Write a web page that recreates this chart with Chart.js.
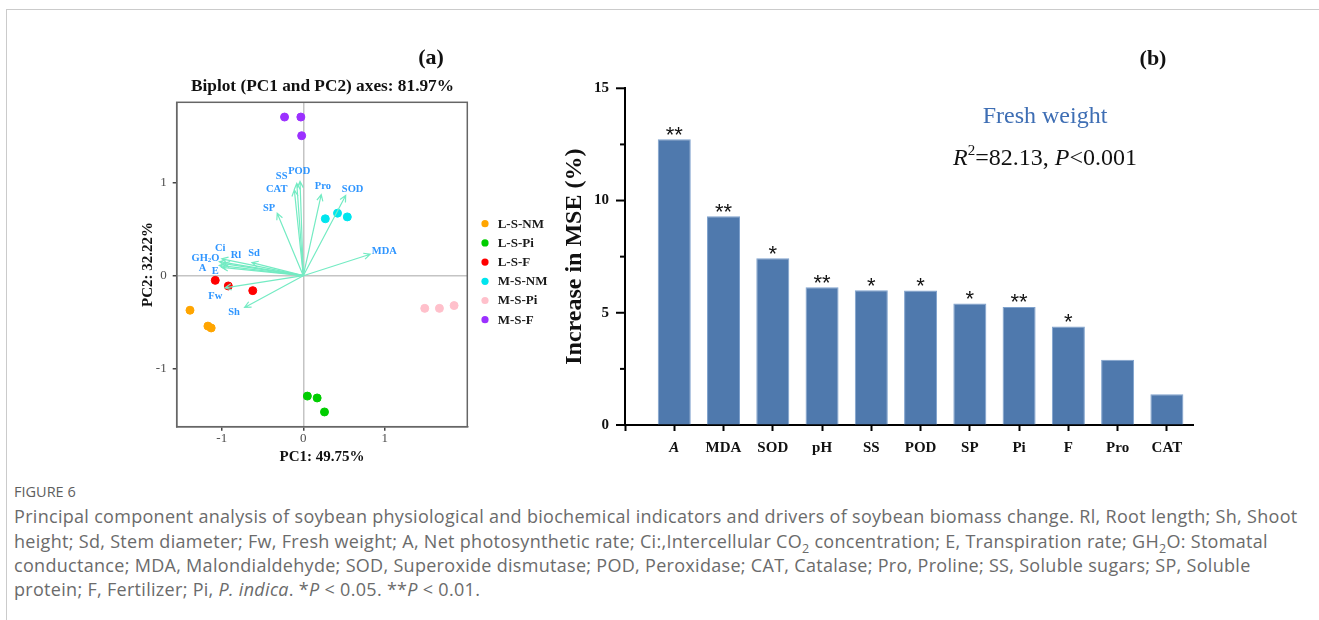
<!DOCTYPE html>
<html>
<head>
<meta charset="utf-8">
<script src="https://cdn.jsdelivr.net/npm/chart.js@4.4.1/dist/chart.umd.min.js"></script>
<style>
  html, body { margin: 0; padding: 0; background: #fff; }
  body { width: 1319px; height: 620px; position: relative; overflow: hidden; }
  #moldura { position: absolute; left: 6px; top: 9px; right: 0; bottom: 0;
    border-top: 1.5px solid #cbcbcb; border-left: 1.5px solid #cbcbcb; }
  #boxA { position: absolute; left: 0; top: 0; width: 560px; height: 480px; }
  #boxB { position: absolute; left: 560px; top: 0; width: 759px; height: 480px; }
  #legenda { position: absolute; left: 14px; top: 480px; font-family: "Open Sans", sans-serif; color: #6b6b6b; }
  #legenda .fig { font-size: 14.5px; line-height: 24.3px; color: #5e5e5e; }
  #legenda .lin { font-size: 18px; letter-spacing: 0.3px; line-height: 24.3px; white-space: nowrap; }
  #legenda sub { font-size: 12.5px; line-height: 0; }
</style>
</head>
<body>
<div id="moldura"></div>
<div id="boxA"><canvas id="graficoA"></canvas></div>
<div id="boxB"><canvas id="graficoB"></canvas></div>
<div id="legenda">
  <div class="fig">FIGURE 6</div>
  <div class="lin">Principal component analysis of soybean physiological and biochemical indicators and drivers of soybean biomass change. Rl, Root length; Sh, Shoot</div>
  <div class="lin">height; Sd, Stem diameter; Fw, Fresh weight; A, Net photosynthetic rate; Ci:,Intercellular CO<sub>2</sub> concentration; E, Transpiration rate; GH<sub>2</sub>O: Stomatal</div>
  <div class="lin">conductance; MDA, Malondialdehyde; SOD, Superoxide dismutase; POD, Peroxidase; CAT, Catalase; Pro, Proline; SS, Soluble sugars; SP, Soluble</div>
  <div class="lin">protein; F, Fertilizer; Pi, <i>P. indica</i>. *<i>P</i> &lt; 0.05. **<i>P</i> &lt; 0.01.</div>
</div>
<script>
  const SERIF = '"Liberation Serif", "Times New Roman", serif';

  // (a) escores do PCA por tratamento
  const grupos = ['L-S-NM', 'L-S-Pi', 'L-S-F', 'M-S-NM', 'M-S-Pi', 'M-S-F'];
  const pc1 = [
    [-1.39, -1.17, -1.13],
    [0.05, 0.17, 0.26],
    [-1.08, -0.92, -0.62],
    [0.27, 0.42, 0.54],
    [1.49, 1.67, 1.85],
    [-0.23, -0.03, -0.02]
  ];
  const pc2 = [
    [-0.37, -0.54, -0.56],
    [-1.29, -1.31, -1.46],
    [-0.05, -0.11, -0.16],
    [0.61, 0.67, 0.63],
    [-0.35, -0.35, -0.32],
    [1.70, 1.70, 1.50]
  ];

  // vetores (cargas) das variaveis
  const variaveis = ['Ci', 'GH2O', 'A', 'E', 'Rl', 'Sd', 'Fw', 'Sh', 'SP', 'CAT', 'SS', 'POD', 'Pro', 'SOD', 'MDA'];
  const cargaX = [-1.00, -1.03, -1.03, -1.00, -0.98, -0.63, -0.96, -0.72, -0.32, -0.11, -0.08, -0.04, 0.22, 0.52, 0.82];
  const cargaY = [0.18, 0.15, 0.11, 0.09, 0.13, 0.14, -0.13, -0.34, 0.67, 0.92, 0.99, 1.01, 0.87, 0.86, 0.23];
  const ticksPCA = [-1, 0, 1];

  // (b) importancia das variaveis para o peso fresco
  const fatores = ['A', 'MDA', 'SOD', 'pH', 'SS', 'POD', 'SP', 'Pi', 'F', 'Pro', 'CAT'];
  const incMSE = [12.73, 9.30, 7.43, 6.14, 6.00, 5.99, 5.41, 5.26, 4.39, 2.91, 1.37];
  const signif = ['**', '**', '*', '**', '*', '*', '*', '**', '*', '', ''];
  const ticksMSE = [0, 2.5, 5, 7.5, 10, 12.5, 15];

  /* cores e posicao dos rotulos (layout) */
  const corGrupo = ['#FFA500', '#00CD00', '#FF0000', '#00E5EE', '#FFC0CB', '#9B30FF'];
  const posRotulo = {
    Ci: [-1.02, 0.295], GH2O: [-1.20, 0.19], A: [-1.235, 0.08], E: [-1.08, 0.045],
    Rl: [-0.826, 0.223], Sd: [-0.605, 0.24], Fw: [-1.08, -0.216], Sh: [-0.85, -0.392],
    SP: [-0.42, 0.72], CAT: [-0.326, 0.926], SS: [-0.265, 1.068], POD: [-0.05, 1.115],
    Pro: [0.24, 0.954], SOD: [0.605, 0.926], MDA: [0.995, 0.265]
  };

  // desenha texto com partes (italico, sobrescrito, subscrito)
  function textoComposto(ctx, partes, cx, y, tam, peso) {
    const fonte = p => (p.it ? 'italic ' : '') + (peso || '') + ' ' + (p.sup || p.sub ? Math.round(tam * 0.62) : tam) + 'px ' + SERIF;
    let total = 0;
    partes.forEach(p => { ctx.font = fonte(p); total += ctx.measureText(p.t).width; });
    let x = cx - total / 2;
    ctx.textAlign = 'left';
    partes.forEach(p => {
      ctx.font = fonte(p);
      const dy = p.sup ? -tam * 0.38 : (p.sub ? tam * 0.22 : 0);
      ctx.fillText(p.t, x, y + dy);
      x += ctx.measureText(p.t).width;
    });
  }

  /* Grafico (a) - biplot */
  const pluginPCA = {
    id: 'pluginPCA',
    afterDatasetsDraw(chart) {
      const { ctx, chartArea: a, scales: { x, y } } = chart;
      ctx.save();
      ctx.strokeStyle = '#666';
      ctx.lineWidth = 1.5;
      ctx.strokeRect(a.left, a.top, a.right - a.left, a.bottom - a.top);

      const x0 = x.getPixelForValue(0), y0 = y.getPixelForValue(0);
      ctx.strokeStyle = '#74EBC3';
      ctx.lineWidth = 1.2;
      variaveis.forEach((v, i) => {
        const x1 = x.getPixelForValue(cargaX[i]), y1 = y.getPixelForValue(cargaY[i]);
        const ang = Math.atan2(y1 - y0, x1 - x0);
        ctx.beginPath();
        ctx.moveTo(x0, y0);
        ctx.lineTo(x1, y1);
        ctx.moveTo(x1 - 7 * Math.cos(ang - 0.45), y1 - 7 * Math.sin(ang - 0.45));
        ctx.lineTo(x1, y1);
        ctx.lineTo(x1 - 7 * Math.cos(ang + 0.45), y1 - 7 * Math.sin(ang + 0.45));
        ctx.stroke();
      });

      ctx.fillStyle = '#2E95FF';
      ctx.textBaseline = 'middle';
      variaveis.forEach(v => {
        const p = posRotulo[v];
        const px = x.getPixelForValue(p[0]), py = y.getPixelForValue(p[1]);
        if (v === 'GH2O') {
          textoComposto(ctx, [{ t: 'GH' }, { t: '2', sub: true }, { t: 'O' }], px, py, 10.5, 'bold');
        } else {
          ctx.font = 'bold 10.5px ' + SERIF;
          ctx.textAlign = 'center';
          ctx.fillText(v, px, py);
        }
      });
      ctx.restore();
    },
    afterDraw(chart) {
      const { ctx, chartArea: a } = chart;
      ctx.save();
      ctx.fillStyle = '#111';
      ctx.textAlign = 'center';
      ctx.textBaseline = 'middle';
      ctx.font = 'bold 17.3px ' + SERIF;
      ctx.fillText('Biplot (PC1 and PC2) axes: 81.97%', 322.5, 87);
      ctx.font = 'bold 22px ' + SERIF;
      ctx.fillText('(a)', 431, 58);

      // legenda
      ctx.textAlign = 'left';
      ctx.font = 'bold 13px ' + SERIF;
      grupos.forEach((g, i) => {
        const cy = a.top + 121.4 + 19.2 * i;
        ctx.fillStyle = corGrupo[i];
        ctx.beginPath();
        ctx.arc(a.right + 17.7, cy, 3.6, 0, Math.PI * 2);
        ctx.fill();
        ctx.fillStyle = '#1a1a1a';
        ctx.fillText(g, a.right + 30.4, cy + 0.5);
      });
      ctx.restore();
    }
  };

  new Chart(document.getElementById('graficoA'), {
    type: 'scatter',
    data: {
      datasets: grupos.map((g, i) => ({
        label: g,
        data: pc1[i].map((v, j) => ({ x: v, y: pc2[i][j] })),
        backgroundColor: corGrupo[i],
        borderColor: corGrupo[i],
        pointRadius: 4,
        pointHoverRadius: 4
      }))
    },
    options: {
      responsive: true,
      maintainAspectRatio: false,
      animation: false,
      layout: { padding: { left: 135, top: 102.3, right: 92.7, bottom: 10 } },
      plugins: { legend: { display: false }, tooltip: { enabled: false } },
      scales: {
        x: {
          type: 'linear', min: -1.553, max: 2.012,
          afterBuildTicks: s => { s.ticks = ticksPCA.map(v => ({ value: v })); },
          afterFit: s => { s.height = 43.3; },
          grid: {
            color: c => (c.tick && c.tick.value === 0) ? '#C4C4C4' : 'rgba(0,0,0,0)',
            lineWidth: 1.5, tickColor: '#444', tickLength: 4
          },
          border: { display: true, color: '#666', width: 1.5 },
          ticks: { font: { family: SERIF, size: 13 }, color: '#4d4d4d', padding: 0, callback: v => v },
          title: { display: true, text: 'PC1: 49.75%', color: '#111', font: { family: SERIF, size: 15, weight: 'bold' } }
        },
        y: {
          type: 'linear', min: -1.618, max: 1.858,
          afterBuildTicks: s => { s.ticks = ticksPCA.map(v => ({ value: v })); },
          afterFit: s => { s.width = 41.7; },
          grid: {
            color: c => (c.tick && c.tick.value === 0) ? '#C4C4C4' : 'rgba(0,0,0,0)',
            lineWidth: 1.5, tickColor: '#444', tickLength: 4
          },
          border: { display: true, color: '#666', width: 1.5 },
          ticks: { font: { family: SERIF, size: 13 }, color: '#4d4d4d', padding: 6, callback: v => v },
          title: { display: true, text: 'PC2: 32.22%', color: '#111', font: { family: SERIF, size: 15, weight: 'bold' } }
        }
      }
    },
    plugins: [pluginPCA]
  });

  /* Grafico (b) - barras */
  const pluginMSE = {
    id: 'pluginMSE',
    afterDatasetsDraw(chart) {
      const { ctx, chartArea: a, scales: { y } } = chart;
      ctx.save();
      // marcas do eixo y (maiores e menores)
      ctx.strokeStyle = '#000';
      ctx.lineWidth = 2;
      ticksMSE.forEach(v => {
        const len = v % 5 === 0 ? 9 : 5;
        const py = y.getPixelForValue(v);
        ctx.beginPath();
        ctx.moveTo(a.left - len, py);
        ctx.lineTo(a.left, py);
        ctx.stroke();
      });
      // asteriscos
      ctx.fillStyle = '#111';
      ctx.font = '22px "Liberation Sans", Arial, sans-serif';
      ctx.textAlign = 'center';
      ctx.textBaseline = 'alphabetic';
      chart.getDatasetMeta(0).data.forEach((barra, i) => {
        ctx.fillText(signif[i], barra.x, barra.y + 2.5);
      });
      ctx.restore();
    },
    afterDraw(chart) {
      const { ctx } = chart;
      ctx.save();
      ctx.textBaseline = 'alphabetic';
      ctx.textAlign = 'center';
      ctx.fillStyle = '#111';
      ctx.font = 'bold 22px ' + SERIF;
      ctx.fillText('(b)', 593, 65);
      ctx.fillStyle = '#3E6EB4';
      ctx.font = '24px ' + SERIF;
      ctx.fillText('Fresh weight', 485, 122.7);
      ctx.fillStyle = '#111';
      textoComposto(ctx, [
        { t: 'R', it: true }, { t: '2', sup: true }, { t: '=82.13, ' },
        { t: 'P', it: true }, { t: '<0.001' }
      ], 485, 164.5, 24, '');
      ctx.restore();
    }
  };

  new Chart(document.getElementById('graficoB'), {
    type: 'bar',
    data: {
      datasets: [{
        label: 'Increase in MSE (%)',
        data: incMSE.map((v, i) => ({ x: i + 1, y: v })),
        backgroundColor: '#4F79AD',
        borderColor: '#7FA2CD',
        borderWidth: 1,
        categoryPercentage: 1,
        barPercentage: 0.67
      }]
    },
    options: {
      responsive: true,
      maintainAspectRatio: false,
      animation: false,
      layout: { padding: { left: 0, top: 88.3, right: 126, bottom: 10 } },
      plugins: { legend: { display: false }, tooltip: { enabled: false } },
      scales: {
        x: {
          type: 'linear', min: 0, max: 11.53, offset: false,
          afterBuildTicks: s => { s.ticks = [0].concat(fatores.map((f, i) => i + 1)).map(v => ({ value: v })); },
          afterFit: s => { s.height = 45; },
          grid: { offset: false, drawOnChartArea: false, tickLength: 6, tickColor: '#000', tickWidth: 2 },
          border: { display: true, color: '#000', width: 2 },
          ticks: {
            color: '#111', padding: 8,
            font: c => ({ family: SERIF, size: 15, weight: 'bold', style: (c.tick && c.tick.value === 1) ? 'italic' : 'normal' }),
            callback: v => v === 0 ? '' : fatores[v - 1]
          }
        },
        y: {
          min: 0, max: 15,
          afterBuildTicks: s => { s.ticks = ticksMSE.map(v => ({ value: v })); },
          afterFit: s => { s.width = 65; },
          grid: { drawOnChartArea: false, tickLength: 9, tickColor: 'rgba(0,0,0,0)' },
          border: { display: true, color: '#000', width: 2 },
          ticks: {
            color: '#111', padding: 7,
            font: { family: SERIF, size: 15, weight: 'bold' },
            callback: v => v % 5 === 0 ? v : ''
          },
          title: {
            display: true, text: 'Increase in MSE (%)', color: '#111', padding: 0,
            font: { family: SERIF, size: 24, weight: 'bold' }
          }
        }
      }
    },
    plugins: [pluginMSE]
  });
</script>
</body>
</html>
